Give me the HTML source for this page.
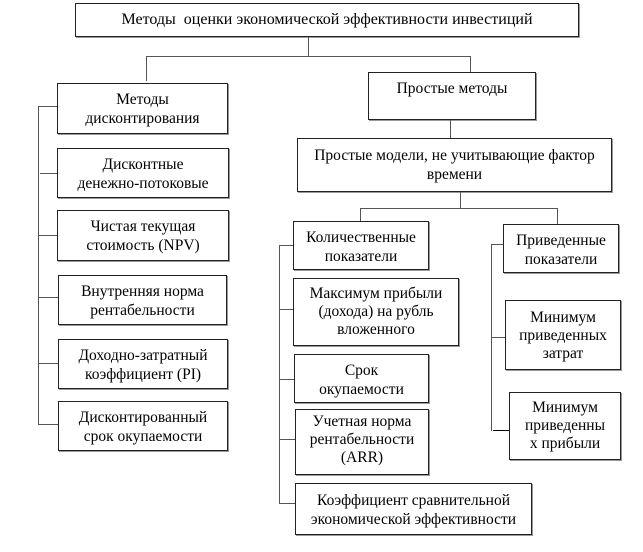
<!DOCTYPE html>
<html><head><meta charset="utf-8"><style>
body{margin:0;width:643px;height:552px;background:#fff;position:relative;overflow:hidden;font-family:"Liberation Serif","Noto Serif CJK SC",serif;}
.b{position:absolute;box-sizing:border-box;border:1px solid #222;box-shadow:1px 1px 0 #999;text-align:center;font-size:15.5px;line-height:19px;color:#000;padding-top:4px;white-space:nowrap;}
.l{position:absolute;background:#555;}
</style></head><body>
<div class="b" style="left:75px;top:3px;width:504px;height:34px;padding-top:6px;font-size:16px;">Методы&nbsp; оценки экономической эффективности инвестиций</div>
<div class="l" style="left:308px;top:37px;width:1px;height:19px"></div>
<div class="l" style="left:146px;top:56px;width:325px;height:1px"></div>
<div class="l" style="left:146px;top:56px;width:1px;height:25px"></div>
<div class="l" style="left:470px;top:56px;width:1px;height:16px"></div>

<div class="b" style="left:57px;top:83px;width:171px;height:51px;padding-top:6px">Методы<br>дисконтирования</div>
<div class="b" style="left:57px;top:148px;width:172px;height:50px;padding-top:6px">Дисконтные<br>денежно-потоковые</div>
<div class="b" style="left:57px;top:210px;width:172px;height:51px;padding-top:6px">Чистая текущая<br>стоимость (NPV)</div>
<div class="b" style="left:58px;top:275px;width:169px;height:50px;padding-top:6px">Внутренняя норма<br>рентабельности</div>
<div class="b" style="left:58px;top:339px;width:170px;height:50px;padding-top:6px">Доходно-затратный<br>коэффициент (PI)</div>
<div class="b" style="left:58px;top:401px;width:170px;height:50px;padding-top:6px">Дисконтированный<br>срок окупаемости</div>
<div class="l" style="left:38px;top:106px;width:1px;height:319px"></div>
<div class="l" style="left:38px;top:106px;width:19px;height:1px"></div>
<div class="l" style="left:40px;top:173px;width:17px;height:1px"></div>
<div class="l" style="left:38px;top:235px;width:19px;height:1px"></div>
<div class="l" style="left:38px;top:297px;width:20px;height:1px"></div>
<div class="l" style="left:38px;top:363px;width:20px;height:1px"></div>
<div class="l" style="left:38px;top:424px;width:20px;height:1px"></div>

<div class="b" style="left:368px;top:72px;width:168px;height:48px;padding-top:6px">Простые методы</div>
<div class="l" style="left:450px;top:120px;width:1px;height:18px"></div>
<div class="b" style="left:297px;top:138px;width:315px;height:54px;padding-top:7px">Простые модели, не учитывающие фактор<br>времени</div>
<div class="l" style="left:460px;top:192px;width:1px;height:16px"></div>
<div class="l" style="left:360px;top:208px;width:198px;height:1px"></div>
<div class="l" style="left:360px;top:208px;width:1px;height:13px"></div>
<div class="l" style="left:557px;top:208px;width:1px;height:16px"></div>

<div class="b" style="left:293px;top:221px;width:136px;height:49px;padding-top:6px">Количественные<br>показатели</div>
<div class="b" style="left:293px;top:278px;width:166px;height:68px;padding-top:6px;line-height:18px">Максимум прибыли<br>(дохода) на рубль<br>вложенного</div>
<div class="b" style="left:294px;top:354px;width:135px;height:49px;padding-top:6px">Срок<br>окупаемости</div>
<div class="b" style="left:295px;top:409px;width:134px;height:66px;padding-top:3px;line-height:18px">Учетная норма<br>рентабельности<br>(ARR)</div>
<div class="b" style="left:295px;top:483px;width:237px;height:52px;padding-top:7px">Коэффициент сравнительной<br>экономической эффективности</div>
<div class="l" style="left:279px;top:245px;width:1px;height:259px"></div>
<div class="l" style="left:279px;top:245px;width:14px;height:1px"></div>
<div class="l" style="left:279px;top:309px;width:14px;height:1px"></div>
<div class="l" style="left:279px;top:379px;width:15px;height:1px"></div>
<div class="l" style="left:279px;top:439px;width:16px;height:1px"></div>
<div class="l" style="left:279px;top:503px;width:16px;height:1px"></div>

<div class="b" style="left:503px;top:224px;width:116px;height:49px;padding-top:6px">Приведенные<br>показатели</div>
<div class="b" style="left:505px;top:300px;width:116px;height:70px;padding-top:8px;line-height:18px">Минимум<br>приведенных<br>затрат</div>
<div class="b" style="left:509px;top:392px;width:112px;height:68px;padding-top:6px;line-height:18px">Минимум<br>приведенны<br>х прибыли</div>
<div class="l" style="left:491px;top:244px;width:1px;height:187px"></div>
<div class="l" style="left:491px;top:244px;width:12px;height:1px"></div>
<div class="l" style="left:491px;top:337px;width:14px;height:1px"></div>
<div class="l" style="left:493px;top:430px;width:16px;height:1px;background:#000"></div>
</body></html>
